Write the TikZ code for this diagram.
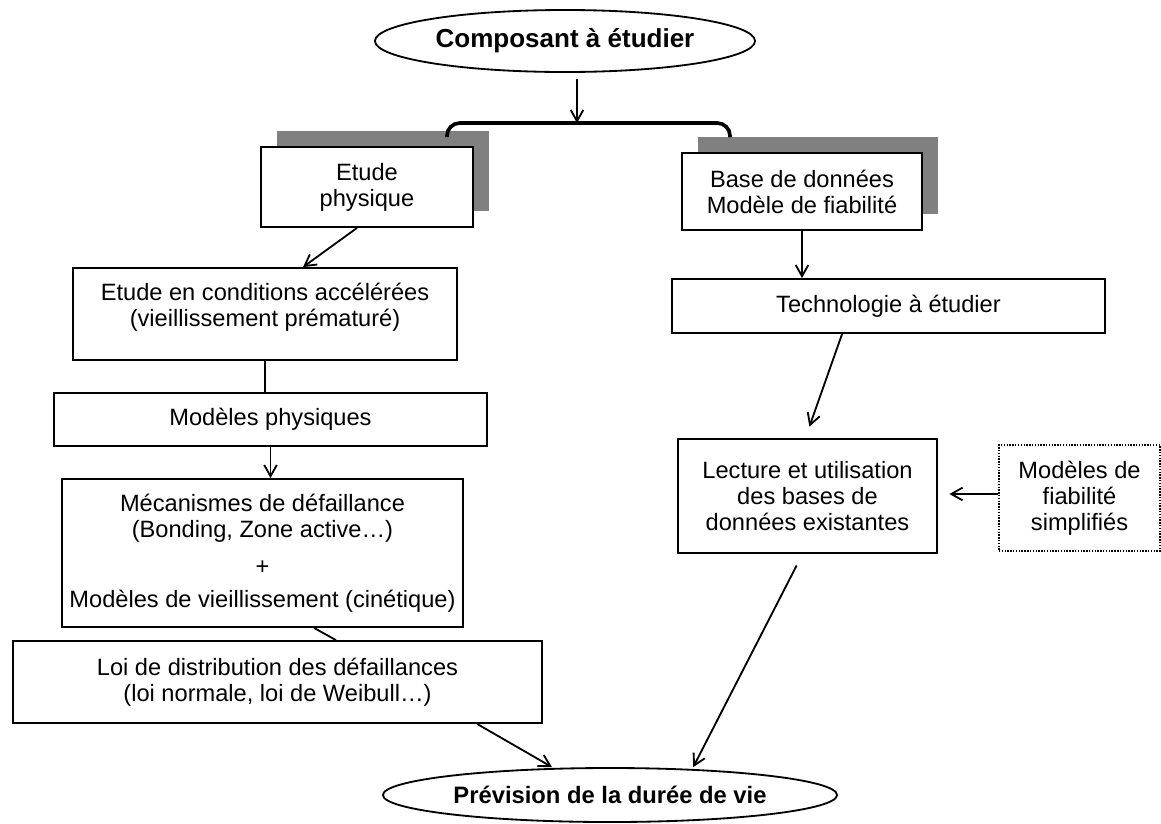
\documentclass[tikz,border=0pt]{standalone}
\usepackage{fontspec}
\setmainfont{Liberation Sans}
\usetikzlibrary{shapes.geometric,shadows,arrows.meta}

\begin{document}
\begin{tikzpicture}[x=0.025cm, y=-0.025cm,
    every node/.style={font=\fontsize{16.8}{18.5}\selectfont, align=center, inner sep=0pt},
    box/.style={rectangle, draw, line width=1.3pt, fill=white},
    shadowbox/.style={box, drop shadow={shadow xshift=0.4cm, shadow yshift=0.4cm, fill=black!50, opacity=1}},
    oval/.style={ellipse, draw, line width=1.3pt, fill=white},
    arr/.style={line width=1.3pt, -{Straight Barb[length=8pt,width=9pt]}},
    link/.style={line width=1.3pt},
    brace/.style={line width=2.6pt, rounded corners=0.32cm}]
    \useasboundingbox (0,0) rectangle (1161,823);

    % Nodes
    \node[oval, minimum width=9.5cm, minimum height=1.55cm, font=\fontsize{18.5}{20}\selectfont\bfseries] (comp) at (565,41) {Composant à étudier};
    \node[shadowbox, minimum width=5.3cm, minimum height=2cm] (phys) at (367,187) {Etude\\physique};
    \node[shadowbox, minimum width=6cm, minimum height=1.925cm] (base) at (802,191.5) {Base de données\\Modèle de fiabilité};
    \node[box, minimum width=9.6cm, minimum height=2.3cm] (cond) at (265,314) {Etude en conditions accélérées\\(vieillissement prématuré)\\[-6pt]\mbox{}};
    \node[box, minimum width=10.825cm, minimum height=1.325cm] (modphys) at (270.5,419.5) {Modèles physiques};
    \node[box, minimum width=10.025cm, minimum height=3.7cm] (meca) at (262.5,553) {Mécanismes de défaillance\\(Bonding, Zone active…)\\[8pt]+\\[5pt]Modèles de vieillissement (cinétique)};
    \node[box, minimum width=13.225cm, minimum height=2.05cm] (loi) at (277.5,682) {Loi de distribution des défaillances\\(loi normale, loi de Weibull…)};
    \node[oval, minimum width=11.35cm, minimum height=1.35cm, font=\fontsize{16.9}{19}\selectfont\bfseries] (prev) at (610,795) {Prévision de la durée de vie};
    \node[box, minimum width=10.825cm, minimum height=1.35cm] (tech) at (888.5,306) {Technologie à étudier};
    \node[box, line width=2pt, minimum width=6.475cm, minimum height=2.85cm] (lect) at (807.5,496) {Lecture et utilisation\\des bases de\\données existantes};
    \node[rectangle, draw, densely dotted, line width=1pt, minimum width=4.025cm, minimum height=2.65cm] (simp) at (1079.5,498) {Modèles de\\fiabilité\\simplifiés};
    \coordinate (fork) at (577,123);
    \coordinate (bracel) at (447,137);
    \coordinate (bracer) at (730,137);

    % Edges
    \draw[arr, shorten <=0.15cm] (comp.south -| fork) -- (fork);
    \draw[brace] (bracel) |- (fork) -| (bracer);
    \draw[arr] ([xshift=-0.25cm]phys.south) -- ([xshift=0.95cm]cond.north);
    \draw[link] (cond.south) -- (cond.south |- modphys.north);
    \draw[arr] (modphys.south) -- (modphys.south |- meca.north);
    \draw[link] ([xshift=1.29cm]meca.south) -- ([xshift=1.46cm]loi.north);
    \draw[arr] ([xshift=4.99cm]loi.south) -- ([xshift=-1.45cm]prev.north);
    \draw[arr] (base.south) -- (base.south |- tech.north);
    \draw[arr, shorten >=0.29cm] ([xshift=-1.16cm]tech.south) -- ([xshift=-0.05cm]lect.north);
    \draw[arr, shorten >=0.275cm] ([yshift=0.1cm]simp.west) -- ([yshift=0.1cm]simp.west -| lect.east);
    \draw[arr, shorten <=0.31cm] ([xshift=-0.13cm]lect.south) -- ([xshift=2.08cm]prev.north);
\end{tikzpicture}
\end{document}
